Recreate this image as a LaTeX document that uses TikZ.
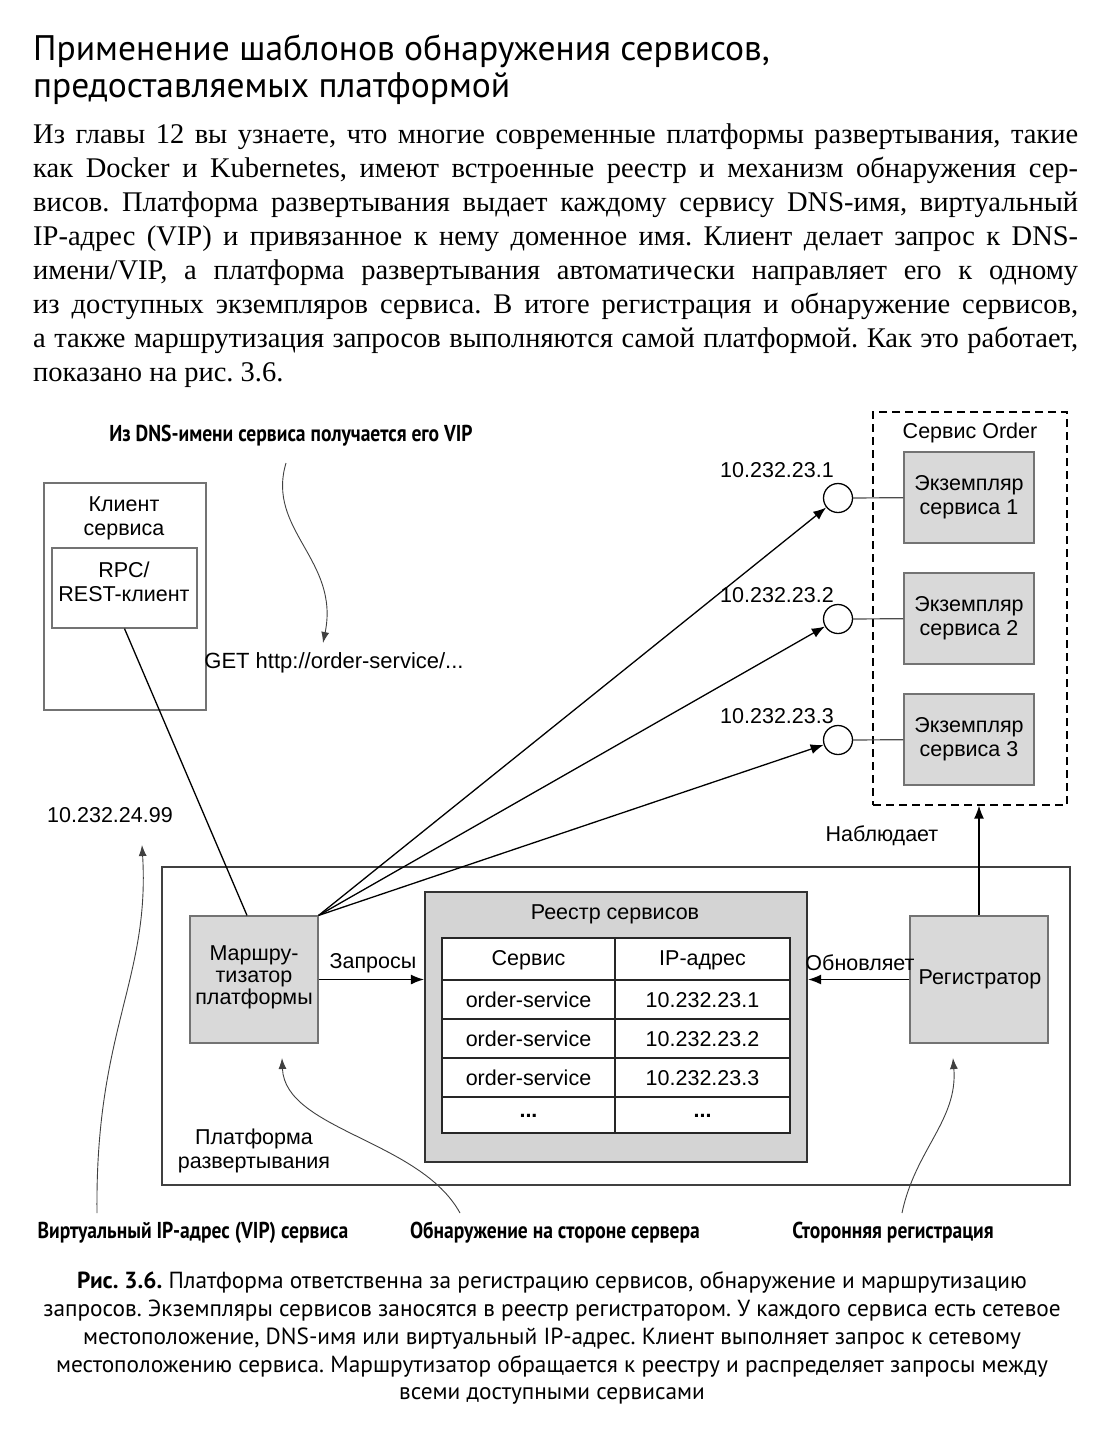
\documentclass[tikz,border=0pt]{standalone}
\usepackage{fontspec}
\setmainfont{Liberation Serif}
\newfontfamily\ptsans{PT Sans}
\newfontfamily\ptcond[FakeStretch=0.85]{PT Sans}
\newfontfamily\diagfont{Liberation Sans}
\usetikzlibrary{arrows.meta,calc}
\frenchspacing
\tikzset{
  body/.style={font=\fontsize{28.5}{33}\selectfont, inner sep=0, anchor=base west},
  ttl/.style={font=\ptsans\fontsize{35.5}{38}\selectfont, inner sep=0, anchor=base west},
  lbl/.style={font=\diagfont\fontsize{21.5}{24}\selectfont, inner sep=0, align=center},
  lblt/.style={font=\diagfont\fontsize{21.5}{22}\selectfont, inner sep=0, align=center},
  call/.style={font=\ptcond\bfseries\fontsize{23}{26}\selectfont, inner sep=0, anchor=base},
  captxt/.style={font=\ptsans\fontsize{23.3}{26}\selectfont, inner sep=0, anchor=base},
  graybox/.style={draw=black!55, fill=black!15, line width=1.2pt, inner sep=0},
  thinbox/.style={draw=black!55, line width=1.2pt, inner sep=0},
  ipcirc/.style={circle, draw, line width=1.3pt, fill=white, minimum size=29pt, inner sep=0},
  arr/.style={-{Latex[length=13pt,width=10pt]}, line width=1.3pt},
  carr/.style={-{Latex[length=11pt,width=8pt]}, line width=0.9pt, draw=black!75},
  conn/.style={line width=1.2pt, draw=black!70},
  tbl/.style={line width=2pt, draw=black!85}
}
\begin{document}
\begin{tikzpicture}[x=1pt,y=-1pt]
\useasboundingbox (0,0) rectangle (1104,1449);
\fill[white] (0,0) rectangle (1104,1449);

% title
\node[ttl] (t1) at (33,60) {Применение шаблонов обнаружения сервисов,};
\node[ttl] (t2) at (33,97) {предоставляемых платформой};

% body text
\node[body] (b1) at (33,143) {\hbox to 1045pt{Из главы 12 вы узнаете, что многие современные платформы развертывания, такие}};
\node[body] (b2) at (33,177) {\hbox to 1045pt{как Docker и Kubernetes, имеют встроенные реестр и механизм обнаружения сер-}};
\node[body] (b3) at (33,211) {\hbox to 1045pt{висов. Платформа развертывания выдает каждому сервису DNS-имя, виртуальный}};
\node[body] (b4) at (33,245) {\hbox to 1045pt{IP-адрес (VIP) и привязанное к нему доменное имя. Клиент делает запрос к DNS-}};
\node[body] (b5) at (33,279) {\hbox to 1045pt{имени/VIP, а платформа развертывания автоматически направляет его к одному}};
\node[body] (b6) at (33,313) {\hbox to 1045pt{из доступных экземпляров сервиса. В итоге регистрация и обнаружение сервисов,}};
\node[body] (b7) at (33,347) {\hbox to 1045pt{а также маршрутизация запросов выполняются самой платформой. Как это работает,}};
\node[body] (b8) at (33,381) {показано на рис. 3.6.};

% client
\node[thinbox, minimum width=162pt, minimum height=227pt] (client) at (125,596.5) {};
\node[lbl] (clientt) at (124,518) {Клиент\\сервиса};
\node[thinbox, minimum width=145pt, minimum height=80pt] (rpc) at (124.5,588) {};
\node[lbl] (rpct) at (124,582) {RPC/\\REST-клиент};

% platform
\node[draw=black!75, line width=1.3pt, minimum width=908pt, minimum height=318pt, inner sep=0] (platform) at (616,1026) {};
\node[lbl] (platt) at (254,1151) {Платформа\\развертывания};

% router
\node[graybox, minimum width=128pt, minimum height=127pt] (router) at (254,979.5) {};
\node[lblt] (routert) at (254,977) {Маршру-\\тизатор\\платформы};

% registry
\node[draw=black!80, fill=black!17, line width=2.2pt, minimum width=382pt, minimum height=270pt, inner sep=0] (registry) at (616,1027) {};
\node[lbl] (regt) at (615,914) {Реестр сервисов};
\fill[white] (442,938) rectangle (790,1133);
\draw[tbl] (442,938) rectangle (790,1133);
\foreach \yy in {980,1019,1058,1097} \draw[tbl] (442,\yy) -- (790,\yy);
\draw[tbl] (615,938) -- (615,1133);
\node[lbl] (h1) at (528.5,960) {Сервис};
\node[lbl] (h2) at (702.5,960) {IP-адрес};
\node[lbl] (r1a) at (528.5,1000) {order-service};
\node[lbl] (r1b) at (702.5,1000) {10.232.23.1};
\node[lbl] (r2a) at (528.5,1039) {order-service};
\node[lbl] (r2b) at (702.5,1039) {10.232.23.2};
\node[lbl] (r3a) at (528.5,1078) {order-service};
\node[lbl] (r3b) at (702.5,1078) {10.232.23.3};
\node[lbl, font=\diagfont\bfseries\fontsize{21.5}{24}\selectfont] (r4a) at (528.5,1116) {...};
\node[lbl, font=\diagfont\bfseries\fontsize{21.5}{24}\selectfont] (r4b) at (702.5,1116) {...};

% registrar
\node[graybox, minimum width=138pt, minimum height=127pt] (registrar) at (979,979.5) {};
\node[lbl] (registrart) at (980,979) {Регистратор};

% order service
\node[draw, dash pattern=on 8pt off 5pt, line width=1.2pt, minimum width=194pt, minimum height=393pt, inner sep=0] (order) at (970,608.5) {};
\node[lbl] (ordert) at (970,433) {Сервис Order};
\node[graybox, minimum width=130pt, minimum height=91pt] (inst1) at (969,497.5) {};
\node[graybox, minimum width=130pt, minimum height=91pt] (inst2) at (969,618.5) {};
\node[graybox, minimum width=130pt, minimum height=91pt] (inst3) at (969,739.5) {};
\node[lbl] (inst1t) at (969,497) {Экземпляр\\сервиса 1};
\node[lbl] (inst2t) at (969,618) {Экземпляр\\сервиса 2};
\node[lbl] (inst3t) at (969,739) {Экземпляр\\сервиса 3};

\node[ipcirc] (ip1) at (838,498) {};
\node[ipcirc] (ip2) at (838,619) {};
\node[ipcirc] (ip3) at (838,740) {};
\draw[conn] (ip1) -- (inst1);
\draw[conn] (ip2) -- (inst2);
\draw[conn] (ip3) -- (inst3);
\node[lbl] (ip1t) at (777,470) {10.232.23.1};
\node[lbl] (ip2t) at (777,595) {10.232.23.2};
\node[lbl] (ip3t) at (777,716) {10.232.23.3};

% connectors
\draw[line width=1.3pt] (rpc.south) -- ([xshift=-7pt]router.north);
\draw[arr] (router.north east) -- (ip1);
\draw[arr] (router.north east) -- (ip2);
\draw[arr] (router.north east) -- (ip3);
\draw[arr] (router.east) -- (router.east -| registry.west);
\draw[arr] (registrar.west) -- (registrar.west -| registry.east);
\draw[arr] (registrar.north) -- (registrar.north |- order.south);
\node[lbl] (zapr) at (373,963) {Запросы};
\node[lbl] (obnov) at (860,963) {Обновляет};
\node[lbl] (nabl) at (882,836) {Наблюдает};

\node[lbl, font=\diagfont\fontsize{22}{24}\selectfont] (get) at (334,663) {GET http://order-service/...};
\node[lbl] (vip) at (110,815) {10.232.24.99};

% callouts
\node[call] (calltop) at (291,441) {Из DNS-имени сервиса получается его VIP};
\node[call] (callvip) at (193,1238) {Виртуальный IP-адрес (VIP) сервиса};
\node[call] (callsrv) at (555,1238) {Обнаружение на стороне сервера};
\node[call] (callreg) at (893,1238) {Сторонняя регистрация};
\coordinate (cA1) at (286,463); \coordinate (cA2) at (323,643);
\draw[carr] (cA1) .. controls (266,530) and (340,560) .. (cA2);
\coordinate (cB1) at (97,1213); \coordinate (cB2) at (142,845);
\draw[carr] (cB1) .. controls (95,1030) and (150,980) .. (cB2);
\coordinate (cC1) at (460,1213); \coordinate (cC2) at (282,1058);
\draw[carr] (cC1) .. controls (420,1140) and (285,1130) .. (cC2);
\coordinate (cD1) at (902,1213); \coordinate (cD2) at (953,1058);
\draw[carr] (cD1) .. controls (915,1150) and (958,1120) .. (cD2);

% caption
\node[captxt] (cap1) at (552,1288) {{\bfseries Рис. 3.6.} Платформа ответственна за регистрацию сервисов, обнаружение и маршрутизацию};
\node[captxt] (cap2) at (552,1316) {запросов. Экземпляры сервисов заносятся в реестр регистратором. У каждого сервиса есть сетевое};
\node[captxt] (cap3) at (552,1344) {местоположение, DNS-имя или виртуальный IP-адрес. Клиент выполняет запрос к сетевому};
\node[captxt] (cap4) at (552,1372) {местоположению сервиса. Маршрутизатор обращается к реестру и распределяет запросы между};
\node[captxt] (cap5) at (552,1399) {всеми доступными сервисами};
\end{tikzpicture}
\end{document}
